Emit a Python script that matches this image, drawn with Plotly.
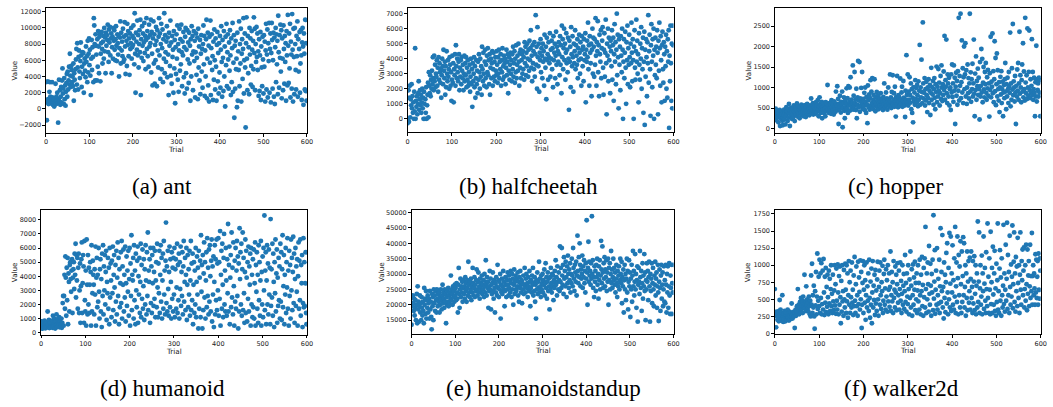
import plotly.graph_objects as go

W, H = 1053, 407

trials = list(range(600))

ant = [
3300, 800, -1400, 1000, 3400, 1200, 600, 900, 2100, 3300, 1500, 700, 1100, 800, 3300, 1400, 500, 900, 1200, 300,
1300, 800, 3100, 600, 1500, 1000, 2000, 700, -1700, 1200, 3600, 900, 2300, 500, 1500, 2700, 800, 3500, 5000, 1900,
2500, 600, 3800, 1200, 2900, 400, 2100, 3200, 4300, 1500, 4600, 2400, 3500, 5200, 3000, 6800, 4100, 2700, 5300, 4800,
3300, 4000, 2800, 5600, 1000, 4400, 3600, 2300, 4900, 6100, 7400, 3000, 8100, 5100, 2400, 6400, 7200, 4600, 3800, 5900,
8200, 6600, 2700, 5200, 7000, 4300, 6900, 2000, 5600, 6200, 4700, 3900, 7700, 5800, 6500, 3300, 8400, 4500, 6800, 8700,
5400, 7300, 4100, 1700, 6200, 8500, 4800, 7600, 6400, 3300, 11200, 10300, 8000, 3500, 9200, 7800, 6700, 3500, 8600, 5200,
9600, 7700, 4400, 8900, 9300, 3400, 6800, 8100, 9500, 7400, 5600, 8300, 9000, 6200, 10000, 7100, 8800, 4400, 9400, 7800,
9100, 8500, 10400, 7000, 5800, 9800, 8200, 10100, 6600, 8700, 9300, 4400, 7600, 8900, 6200, 10000, 8400, 9700, 7300, 6000,
8600, 10200, 7800, 5900, 9200, 8100, 6700, 9000, 4000, 7500, 8800, 10800, 5600, 9400, 7200, 8300, 6500, 9900, 5800, 8900,
6100, 10700, 7700, 4300, 9100, 8400, 5300, 10500, 7900, 9600, 6500, 8700, 4200, 9300, 7400, 8100, 10000, 6200, 7600, 9000,
7900, 10300, 8700, 5500, 11800, 6800, 2000, 9400, 8300, 7300, 10900, 6600, 9100, 5100, 8000, 9700, 7000, 11000, 1700, 8600,
6300, 10200, 7800, 9300, 5900, 8200, 10600, 6900, 9000, 4900, 8500, 11200, 7400, 9600, 6500, 8800, 5200, 10400, 7700, 9100,
8100, 11000, 4500, 9500, 6800, 2900, 8700, 10800, 5600, 9200, 3100, 7900, 6000, 10100, 8400, 2800, 9700, 7200, 5100, 8900,
11200, 6600, 9300, 3700, 8000, 10500, 4900, 7500, 9800, 3300, 8600, 6200, 11800, 4400, 9100, 7000, 5800, 8300, 10200, 3900,
8800, 6700, 1700, 9400, 7800, 5300, 10900, 4100, 8200, 3100, 9000, 6400, 7300, 2000, 9600, 5000, 8500, 700, 7600, 4300,
9200, 6200, 10300, 3600, 8000, 2100, 7200, 9900, 4700, 8600, 5500, 10400, 7000, 2800, 8300, 6600, 9500, 3900, 7600, 1900,
8900, 10000, 4400, 7300, 2500, 9700, 6100, 8200, 3200, 9400, 5600, 7800, 1000, 8600, 4000, 10200, 6700, 9000, 2300, 7100,
9600, 5900, 8400, 1400, 7000, 9300, 4200, 6300, 8800, 1200, 9900, 5100, 7700, 3500, 8500, 1800, 6800, 9100, 4600, 7400,
2600, 8000, 10300, 5500, 9000, 1600, 7200, 4000, 8600, 11000, 1300, 6200, 9400, 2900, 7800, 900, 8900, 5700, 10900, 1700,
7500, 9200, 4800, 6500, 1100, 8300, 3600, 9800, 6000, 2400, 8700, 5200, 1000, 7900, 9500, 3400, 6900, 1900, 8100, 4500,
9000, 2600, 7300, 10200, 5800, 1500, 8500, 6300, 2200, 9600, 4000, 7700, 300, 8900, 5400, 10500, 2800, 7000, 9200, 6100,
2500, 8200, 4700, 9700, 6600, 1700, 8700, 3300, 7500, 10600, 2100, 5700, 9100, -1100, 7800, 2500, 8400, 4900, 6200, 200,
9400, 1000, 7100, 4800, 10800, 2800, 8000, 5600, 9900, 900, 6800, 8600, 3700, 7400, 11200, 1900, 6000, 9300, 5100, -2300,
8100, 11300, 6200, 2300, 9000, 4400, 7600, 1800, 10000, 6700, 8700, 3000, 5300, 9600, 7300, 2700, 8400, 4900, 11300, 6900,
9900, 2300, 8000, 5800, 10100, 6400, 9300, 4800, 7100, 1600, 8600, 2200, 6600, 9500, 1100, 7700, 5100, 2800, 8900, 6100,
1900, 9100, 5200, 8300, 900, 7200, 10500, 2400, 6700, 9800, 1400, 8100, 5900, 10600, 2000, 7400, 9300, 800, 6900, 10600,
8500, 2500, 6000, 9400, 1500, 8800, 600, 7600, 10000, 3300, 9200, 5500, 8400, 1800, 11500, 7000, 2600, 9100, 6300, 10400,
4600, 9700, 1300, 8700, 6200, 2300, 10300, 7400, 3100, 9000, 5800, 8100, 1000, 9600, 6600, 2900, 11600, 7800, 3200, 9300,
5000, 10500, 1400, 8300, 6700, 2500, 11700, 7300, 900, 9900, 6400, 1800, 10000, 8000, 4800, 2400, 9000, 6500, 10800, 1500,
8600, 4600, 7400, 9500, 2000, 5600, 9700, 6600, 1100, 8200, 10000, 7700, 500, 9300, 6800, 2400, 11000, 2200, 8100, 1000,
]

halfcheetah = [
-300, 0, 1900, -200, 1400, 2200, 100, 1300, 900, 2300, 700, 1500, 400, 1100, 0, 1800, 500, 4700, 0, 1200,
800, 1500, 300, 1000, 1700, 2500, 600, 1300, 1900, 900, 1600, 400, 1100, 2000, 700, 1400, 0, 1800, 1000, 0,
1300, 400, 2100, 0, 900, 1600, 2400, 100, 3100, 2200, 1700, 2900, 1500, 2600, 2000, 3200, 2300, 4100, 2700, 1900,
4200, 2500, 3600, 2100, 3000, 2800, 3900, 2200, 3400, 1800, 4100, 2600, 3700, 3100, 2400, 3300, 1400, 2900, 4000, 3500,
2300, 4600, 3200, 2700, 3800, 1600, 3500, 2100, 4500, 3000, 2500, 3900, 2800, 3300, 2000, 4100, 3600, 2200, 3100, 1200,
2600, 4200, 2400, 3700, 1100, 3300, 2900, 4300, 2200, 4900, 3500, 2700, 4000, 3100, 2500, 3800, 4300, 1900, 3400, 2800,
3900, 2300, 4100, 3200, 2700, 3600, 1900, 3000, 4200, 2500, 3700, 2900, 4100, 2100, 3400, 2600, 3900, 2200, 3100, 2400,
3600, 1800, 2800, 4000, 2300, 3300, 800, 3700, 2500, 3000, 4100, 2100, 3500, 1400, 2700, 3900, 2300, 3200, 1700, 3800,
2600, 4300, 3100, 2000, 4000, 2800, 3500, 1600, 4800, 3300, 2500, 4400, 3000, 2200, 3800, 4600, 2700, 3600, 2100, 4200,
3100, 4700, 2900, 3900, 2300, 4300, 1600, 3400, 4000, 2700, 3700, 4500, 2200, 3300, 4400, 2800, 3800, 2500, 4100, 3200,
2900, 4500, 3600, 2400, 4100, 3000, 4600, 2700, 3800, 3300, 4300, 2200, 3900, 3100, 4700, 2600, 3500, 4200, 2800, 3700,
4000, 2300, 3400, 4600, 2900, 3800, 4300, 1700, 3200, 4100, 2600, 3600, 4400, 3000, 3900, 2500, 4300, 3300, 4800, 2800,
3700, 4500, 2400, 4000, 3100, 4900, 2700, 3600, 4200, 3200, 5000, 3800, 2200, 4400, 3400, 4600, 2700, 3900, 4300, 3000,
4500, 3300, 4100, 2600, 5100, 3700, 4800, 2900, 4400, 3500, 5000, 4000, 2800, 4600, 3200, 5200, 3900, 4700, 5900, 3400,
4200, 2500, 4900, 3700, 4500, 3300, 5100, 2800, 4300, 6900, 3600, 4800, 2000, 6100, 4100, 3500, 5000, 1800, 4400, 3900,
5300, 3100, 4700, 4200, 2700, 5000, 3800, 4500, 2200, 5600, 4000, 3400, 4800, 1300, 5400, 3900, 4300, 2600, 5100, 4100,
3700, 5700, 2800, 4600, 4000, 5200, 3300, 4700, 2100, 5500, 3900, 4400, 5000, 2700, 4200, 5800, 3600, 4800, 2300, 4500,
3800, 5100, 4300, 2900, 5500, 3600, 4900, 1700, 6200, 4100, 5300, 3300, 4700, 6000, 3900, 5000, 2600, 4400, 5700, 3700,
4600, 3100, 5400, 4000, 600, 5200, 3800, 4800, 2100, 6100, 4300, 3500, 5500, 4100, 1800, 5000, 3700, 4500, 5900, 3300,
4900, 4200, 3600, 5300, 2700, 4700, 3900, 5600, 4400, 3000, 5100, 4000, 2200, 5500, 4600, 3500, 4800, 2500, 5300, 3900,
4300, 5700, 1100, 4600, 3800, 5200, 4100, 6400, 3300, 4900, 2200, 5500, 4400, 3700, 5000, 1500, 4600, 6000, 3000, 5400,
4800, 2800, 5300, 3600, 6700, 4200, 2200, 5100, 4500, 6500, 3100, 4900, 1500, 5600, 4300, 3800, 5900, 2700, 4700, 5200,
6100, 3400, 1600, 4600, 5700, 2800, 4400, 6600, 3700, 300, 5000, 4200, 6000, 2500, 5400, 3900, 4800, 1700, 5200, 4500,
3500, 5900, 2600, 4900, 5400, 1200, 4300, 6300, 3800, 5100, 2300, 4600, 7000, 2900, 5600, 4100, 700, 5300, 3600, 4800,
1900, 5500, 4200, 3100, 6000, 4600, 0, 3800, 5300, 2700, 4400, 5800, 3400, 1000, 5100, 3900, 6200, 2300, 4700, 3600,
5600, 4100, 2100, 5000, 3700, 6400, 4400, 2500, 5300, 3900, 0, 4800, 5900, 3400, 2600, 4500, 6600, 3800, 5200, 3000,
4300, 1100, 5700, 3600, 2600, 5000, 4000, 6100, 2000, 4700, 3300, 5400, 400, 3800, 5800, -400, 4600, 2800, 5300, 4100,
1500, 5100, 3700, 6900, 2400, 4500, 5600, 3300, 200, 4900, 6300, 3800, 2100, 5300, 4200, 6000, 0, 4600, 2900, 5400,
3600, 4800, 2700, 5900, 4400, 300, 5200, 3200, 6400, 4700, 2200, 5500, 3900, 1100, 4900, 5800, 3300, 2400, 5100, 4300,
1200, 4800, 3500, 5600, 2000, 4500, 1400, 5300, 3800, 5900, -600, 4200, 2500, 6200, 3700, 1200, 5000, 700, 6200, 4900,
]

hopper = [
400, 250, 480, 300, 200, 350, 430, 280, 150, 380, 320, 450, 60, 300, 240, 420, 350, 190, 80, 270,
330, 460, 220, 380, 100, 290, 520, 340, 410, 180, 480, 260, 600, 370, 60, 440, 300, 510, 390, 230,
470, 350, 280, 560, 420, 180, 380, 500, 330, 450, 610, 290, 400, 540, 360, 470, 250, 520, 430, 380,
580, 330, 480, 410, 530, 300, 460, 390, 570, 440, 280, 510, 380, 600, 450, 350, 530, 470, 320, 560,
420, 500, 730, 380, 560, 450, 620, 340, 510, 430, 580, 480, 360, 640, 520, 400, 570, 690, 460, 300,
540, 760, 420, 600, 380, 490, 650, 250, 530, 450, 610, 380, 560, 480, 300, 640, 520, 420, 590, 1060,
470, 550, 380, 620, 500, 430, 580, 360, 690, 520, 610, 440, 570, 340, 660, 490, 530, 410, 900, 600,
550, 1030, 450, 720, 110, 600, 470, 800, 540, 390, 650, 580, 900, 30, 500, 620, 760, 430, 250, 690,
520, 600, 980, 470, 740, 380, 1030, 560, 640, 1000, 440, 1250, 580, 700, 510, 620, 1540, 460, 800, 550,
1380, 610, 700, 450, 970, 250, 580, 760, 1650, 520, 680, 1620, 410, 730, 560, 990, 640, 1380, 480, 600,
720, 550, 870, 450, 1000, 650, 380, 770, 580, 130, 1050, 690, 520, 830, 460, 740, 1180, 560, 900, 620,
1230, 480, 700, 820, 560, 1200, 650, 420, 760, 590, 890, 510, 690, 800, 470, 620, 730, 550, 660, 860,
500, 720, 580, 640, 450, 770, 590, 1100, 680, 520, 620, 880, 560, 730, 460, 650, 1000, 600, 700, 540,
1320, 640, 760, 500, 890, 620, 1300, 580, 700, 860, 530, 1020, 650, 290, 770, 590, 1280, 680, 520, 810,
640, 760, 550, 1220, 700, 600, 880, 1020, 530, 680, 1160, 750, 620, 560, 280, 920, 700, 1790, 820, 630,
1320, 560, 900, 700, 1250, 820, 630, 1100, 470, 960, 380, 750, 150, 1010, 660, 880, 580, 1180, 720, 990,
640, 1060, 810, 540, 1150, 700, 920, 2040, 580, 1000, 760, 1680, 890, 620, 2590, 1100, 730, 870, 1230, 560,
960, 680, 1140, 810, 400, 1000, 740, 1200, 620, 920, 1060, 330, 870, 1480, 700, 1010, 830, 1160, 580, 960,
1230, 750, 470, 1080, 890, 1510, 640, 1020, 780, 1450, 920, 1120, 560, 860, 1280, 720, 1540, 1000, 670, 1080,
820, 1390, 940, 2260, 700, 1180, 1020, 2170, 860, 620, 1320, 1100, 780, 1240, 560, 960, 1000, 450, 1320, 880,
1560, 770, 1100, 650, 1540, 920, 1240, 110, 1020, 1360, 800, 1160, 580, 1400, 920, 2700, 680, 1280, 1040, 2800,
740, 1130, 2150, 880, 1470, 620, 1250, 2000, 960, 1320, 2080, 780, 1420, 600, 1000, 1560, 860, 1230, 730, 1100,
2800, 900, 1370, 650, 1200, 960, 1580, 780, 1100, 2170, 850, 300, 1340, 940, 1760, 700, 1160, 1030, 1460, 820,
1240, 960, 220, 1620, 780, 1040, 1940, 880, 1700, 640, 1120, 1500, 950, 760, 1380, 1080, 1600, 870, 700, 1250,
980, 1430, 800, 1100, 290, 1350, 940, 2240, 760, 1140, 1020, 2320, 860, 1400, 640, 1200, 2130, 910, 1720, 570,
1080, 1830, 780, 1420, 960, 680, 1130, 400, 1000, 1260, 830, 1400, 620, 960, 1140, 300, 880, 1060, 740, 1200,
1600, 900, 470, 1080, 780, 1240, 960, 620, 1380, 1020, 870, 2340, 540, 1100, 700, 1470, 950, 2550, 810, 1150,
1000, 660, 1280, 880, 110, 1040, 780, 1440, 920, 1600, 700, 1100, 2360, 850, 1300, 1000, 640, 1180, 1560, 900,
2080, 760, 1390, 960, 680, 2700, 1120, 860, 1300, 720, 2440, 1000, 800, 1380, 2390, 940, 740, 1200, 880, 1040,
2180, 820, 1380, 700, 960, 1240, 870, 300, 1130, 780, 2020, 660, 1200, 940, 1100, 780, 1240, 880, 1180, 300,
]

humanoid = [
600, 350, 800, 450, 300, 700, 500, 400, 850, 550, 320, 650, 480, 750, 380, 1500, 560, 420, 900, 330,
700, 500, 380, 620, 450, 850, 350, 1200, 550, 420, 1000, 680, 300, 780, 500, 1300, 600, 400, 950, 700,
520, 1100, 380, 800, 600, 450, 1000, 350, 700, 2100, 2600, 500, 2600, 4100, 1700, 5400, 3900, 1200, 4600, 2300,
5300, 600, 4200, 3600, 1500, 4800, 5000, 3800, 2900, 4400, 5200, 1400, 3900, 4500, 5000, 3100, 5600, 4100, 6300, 2500,
5500, 3700, 5300, 1700, 4600, 5600, 1400, 3000, 4900, 700, 3300, 5200, 6400, 1400, 3500, 5500, 4700, 700, 6500, 2300,
1500, 4400, 500, 6600, 3400, 1300, 5500, 2000, 4600, 1400, 3400, 5000, 4300, 500, 6200, 1500, 2800, 5100, 4100, 3400,
1300, 4500, 2700, 6100, 500, 3900, 5300, 1800, 4100, 2200, 6000, 2900, 1000, 4500, 5200, 1500, 3800, 400, 5600, 2600,
6200, 1300, 4700, 3000, 5500, 2000, 4300, 5800, 900, 3600, 2800, 5300, 1700, 4600, 600, 6000, 2500, 4900, 3700, 1100,
5100, 2800, 6100, 1600, 4100, 5500, 3200, 800, 4800, 2200, 5800, 1300, 3900, 6400, 2600, 5300, 600, 4500, 1800, 3500,
5700, 2100, 6500, 1000, 4700, 3400, 5900, 1500, 4100, 2500, 6100, 800, 3500, 5400, 1900, 4400, 2900, 5800, 1200, 3800,
6000, 500, 4900, 2600, 6900, 1600, 4100, 3700, 5300, 1000, 6200, 2300, 4400, 600, 5600, 3000, 1800, 5100, 6100, 700,
4000, 2700, 5300, 1400, 3600, 6300, 1100, 4800, 2400, 5900, 1700, 3300, 5200, 900, 4500, 2000, 6200, 3700, 1300, 5700,
2600, 7100, 1600, 4400, 3600, 5200, 700, 6000, 2100, 4700, 1400, 5500, 3500, 6000, 1900, 4300, 2400, 5800, 1100, 3700,
5000, 1800, 6300, 3200, 1100, 4900, 2800, 5800, 1400, 4100, 6200, 2200, 5300, 1000, 3700, 5600, 1700, 6500, 2700, 4400,
1300, 5100, 7800, 2100, 4700, 1500, 5800, 3100, 1200, 4300, 6100, 1800, 5200, 3600, 1000, 5700, 2400, 4600, 1500, 5300,
2700, 6000, 1100, 4500, 5200, 1700, 3200, 6300, 1400, 4800, 2300, 5600, 1000, 5000, 3100, 6100, 1900, 4300, 2600, 5700,
1300, 4700, 6500, 2200, 3600, 5300, 1600, 4100, 6000, 900, 3400, 5500, 1800, 4500, 2700, 5800, 1200, 3700, 6500, 1600,
4900, 2300, 5600, 600, 3400, 5000, 1400, 4400, 2000, 6000, 1100, 3600, 5400, 2700, 4600, 300, 5800, 1700, 3900, 5100,
1100, 6900, 2900, 4800, 300, 5500, 1600, 4200, 6400, 2500, 5000, 1000, 3700, 5700, 1800, 6700, 2600, 4600, 1300, 5900,
2200, 6200, 4000, 1500, 5100, 6600, 800, 4700, 2700, 5400, 400, 3600, 6200, 1300, 5200, 2300, 6600, 1600, 4900, 3000,
6700, 1200, 5000, 2400, 7200, 500, 4100, 5800, 1700, 6300, 3400, 1100, 5300, 7000, 2000, 4400, 1500, 6000, 3700, 1200,
5200, 2800, 7700, 1500, 4800, 6100, 600, 3900, 5500, 1800, 7100, 2500, 4600, 1300, 6400, 3300, 500, 5100, 2200, 6000,
1700, 4400, 6500, 2600, 5400, 300, 4900, 1500, 7400, 3800, 5700, 2000, 6300, 1200, 4500, 7100, 1600, 5300, 2800, 700,
4300, 6600, 1400, 5800, 3900, 800, 5000, 2400, 6100, 1500, 4700, 3400, 5600, 500, 6000, 2000, 4100, 1100, 5200, 1800,
5900, 1000, 3500, 6400, 500, 4800, 2900, 5700, 1700, 4100, 700, 6200, 2300, 5000, 1200, 3700, 6500, 500, 4300, 2000,
5400, 1100, 6000, 3000, 8300, 1600, 4400, 5700, 600, 3700, 6200, 2000, 4900, 1300, 5900, 2700, 4600, 600, 8050, 1900,
4500, 2500, 6300, 1200, 5600, 3600, 400, 5000, 2800, 6600, 1500, 4200, 5900, 700, 3900, 1900, 5300, 2300, 4700, 1000,
6300, 2200, 5700, 900, 4500, 6900, 1800, 3300, 5500, 600, 4100, 2700, 6000, 1400, 5000, 3200, 6700, 1700, 4400, 500,
5800, 2600, 4800, 1000, 6600, 3000, 5300, 1600, 4300, 6800, 2100, 5600, 700, 3800, 6000, 1900, 4700, 2900, 5200, 500,
4000, 6400, 1700, 5100, 2300, 6600, 1200, 4800, 3500, 5500, 400, 2100, 6700, 1800, 5000, 1900, 3500, 5700, 1400, 600,
]

humanoidstandup = [
13500, 22500, 19500, 23000, 20500, 18000, 22000, 16500, 19000, 21500, 15000, 20000, 23500, 14000, 26000, 18500, 21000, 14500, 19500, 23000,
17500, 20500, 15000, 22500, 19000, 16500, 21000, 18000, 14000, 25500, 20000, 22000, 17000, 24500, 15500, 21500, 19000, 23000, 17500, 20500,
22000, 15500, 24500, 18500, 21000, 16000, 12000, 23500, 19500, 22500, 15000, 25000, 20500, 23000, 18000, 24500, 21500, 17500, 25000, 22000,
19500, 23500, 21000, 24000, 17500, 22500, 20000, 25000, 21500, 18500, 23000, 26500, 20500, 24000, 22000, 19000, 25000, 21000, 23500, 14000,
22500, 20000, 24500, 21000, 25500, 19500, 23000, 20500, 24000, 22000, 29500, 21500, 25000, 23500, 20000, 26000, 22500, 24500, 21000, 26500,
23000, 25500, 21500, 27000, 24000, 22000, 17500, 26500, 32000, 23500, 19000, 25000, 28500, 22500, 26000, 24000, 27500, 21000, 25500, 28000,
23500, 26000, 22000, 29000, 24500, 27000, 21000, 25500, 28000, 23000, 34000, 26500, 24000, 22500, 27500, 25000, 28500, 21500, 26000, 24000,
32000, 27000, 23000, 25500, 29000, 22500, 26500, 24500, 28000, 31500, 25000, 23000, 27500, 30500, 24000, 26000, 22000, 28500, 25500, 27000,
24500, 29500, 23500, 26500, 25000, 28000, 22500, 30000, 26000, 24000, 34500, 27000, 23000, 29000, 25500, 27500, 19000, 26000, 24500, 31000,
25000, 28500, 18500, 26500, 23500, 27000, 30500, 24500, 22000, 28000, 25500, 17500, 27000, 24000, 29000, 26000, 23000, 33000, 25500, 28000,
22500, 27500, 25000, 30000, 15500, 26500, 24000, 28500, 23500, 26000, 31000, 25000, 27500, 19500, 24500, 29000, 26500, 22500, 28000, 25000,
30500, 26500, 23000, 29500, 25500, 28000, 24000, 31000, 27000, 22500, 30000, 25000, 28500, 20000, 26500, 31500, 23500, 27500, 29500, 25000,
24500, 28500, 26000, 30500, 23000, 27500, 21000, 29000, 25500, 31000, 26500, 24000, 28000, 20500, 27000, 25000, 29500, 23500, 26500, 32000,
26000, 24000, 28500, 30000, 25500, 27000, 22500, 29000, 26000, 24500, 31000, 27500, 19500, 25500, 28000, 24000, 29500, 26500, 32000, 23000,
27000, 24500, 29000, 21000, 26500, 15500, 28000, 25000, 30500, 23500, 27500, 25500, 34000, 24000, 28500, 26000, 22500, 29500, 25000, 27000,
30000, 24000, 28000, 26500, 31500, 23000, 27000, 33500, 25500, 29000, 22000, 27500, 30500, 24500, 28500, 26000, 18500, 29000, 25000, 32000,
27000, 24000, 30000, 26000, 29500, 21500, 28000, 25500, 31000, 27000, 34500, 26500, 29000, 23000, 32500, 27500, 25000, 30500, 28000, 24500,
39000, 27500, 32000, 25500, 38500, 29500, 26500, 33000, 23500, 35500, 28500, 31000, 26000, 34000, 29000, 22500, 32500, 27000, 36000, 30000,
25500, 31500, 28000, 33500, 24000, 30000, 27000, 35000, 29500, 26000, 38500, 32000, 28500, 24500, 33000, 30500, 27500, 34000, 23000, 29500,
42500, 31000, 27000, 35500, 29000, 40000, 33000, 26000, 31500, 28500, 30000, 36000, 25500, 32500, 29000, 34500, 27000, 31000, 24000, 33500,
28500, 47500, 30500, 20000, 32000, 40500, 27500, 34000, 29500, 31000, 26500, 33500, 28500, 48800, 30000, 34500, 25500, 29000, 22500, 32500,
27500, 31000, 24500, 33000, 29000, 35000, 26500, 30000, 22000, 32500, 28000, 34500, 25000, 29500, 40800, 31500, 27000, 39000, 30500, 25500,
33500, 28500, 35500, 26000, 31500, 29000, 34500, 24500, 30500, 27500, 35000, 20000, 32000, 28000, 33500, 25000, 30000, 37500, 27000, 31500,
25500, 29000, 35000, 28000, 32000, 26500, 30500, 24000, 28500, 33000, 27000, 22500, 31000, 26000, 29500, 32500, 25000, 28000, 35000, 30000,
27000, 34000, 20500, 29000, 26000, 31500, 17500, 28000, 33000, 25000, 30000, 21500, 28500, 35000, 24000, 31000, 18500, 27500, 34500, 26000,
30500, 16000, 28500, 25000, 33000, 21000, 29500, 37500, 26000, 31000, 23000, 27500, 36500, 25000, 30000, 19000, 28000, 32500, 14500, 26500,
32000, 27500, 23500, 37500, 29000, 25500, 31000, 18000, 27000, 33500, 22000, 29500, 26000, 36500, 24500, 30500, 15000, 28000, 25000, 33500,
27500, 31000, 21500, 29000, 34000, 26000, 14500, 30000, 24500, 28500, 33500, 20500, 27000, 32000, 25000, 19500, 29500, 26500, 34000, 23000,
28500, 30500, 19000, 26000, 33000, 24000, 14700, 27500, 31500, 25500, 18000, 29500, 33000, 22000, 26500, 30500, 19500, 25000, 32500, 21000,
28000, 20500, 33000, 26500, 17500, 30000, 24000, 32500, 19000, 26000, 33500, 23000, 17000, 29500, 25500, 33000, 17000, 27000, 24000, 33000,
]

walker2d = [
650, 300, 260, 90, 320, 280, 200, 310, 240, 180, 330, 490, 270, 350, 190, 300, 220, 560, 260, 170,
290, 210, 330, 250, 180, 270, 310, 200, 240, 350, 230, 280, 190, 320, 260, 210, 300, 240, 440, 270,
220, 310, 280, 250, 320, 80, 290, 350, 260, 330, 400, 300, 650, 360, 420, 280, 380, 460, 330, 520,
350, 410, 480, 300, 540, 390, 440, 860, 370, 470, 330, 690, 420, 500, 360, 450, 320, 540, 400, 280,
480, 250, 850, 420, 1020, 300, 560, 380, 700, 250, 70, 620, 410, 900, 280, 540, 1170, 360, 480, 830,
400, 1080, 300, 880, 520, 1030, 280, 430, 920, 350, 1090, 600, 270, 830, 450, 960, 310, 680, 390, 860,
530, 280, 920, 440, 800, 330, 650, 1000, 400, 580, 300, 860, 470, 340, 630, 1000, 410, 720, 290, 950,
480, 350, 1010, 600, 280, 840, 420, 980, 530, 150, 770, 320, 1000, 470, 620, 260, 930, 500, 380, 1020,
640, 300, 1000, 470, 880, 230, 560, 1060, 420, 750, 300, 920, 530, 380, 1040, 450, 640, 270, 850, 400,
1120, 480, 300, 720, 980, 400, 560, 260, 1050, 430, 820, 610, 350, 1070, 500, 900, 80, 420, 740, 1060,
300, 640, 1000, 450, 780, 200, 560, 1040, 380, 690, 480, 880, 330, 1080, 520, 230, 760, 420, 950, 150,
600, 1060, 380, 700, 490, 860, 270, 930, 440, 630, 330, 790, 1050, 500, 260, 680, 920, 420, 1040, 560,
360, 750, 620, 990, 300, 480, 870, 1080, 420, 660, 350, 940, 540, 780, 320, 1000, 470, 640, 880, 390,
680, 1200, 330, 560, 900, 470, 750, 300, 1060, 520, 640, 380, 980, 600, 860, 340, 720, 1030, 450, 560,
920, 350, 650, 1040, 480, 770, 300, 580, 1000, 420, 700, 870, 360, 620, 1150, 460, 740, 320, 880, 540,
430, 1000, 650, 280, 790, 520, 1200, 380, 700, 940, 260, 560, 1010, 420, 820, 640, 1050, 340, 740, 500,
880, 300, 630, 1000, 470, 740, 350, 1080, 560, 280, 860, 620, 1120, 400, 710, 260, 960, 530, 1100, 380,
1560, 650, 300, 880, 500, 1040, 720, 320, 1280, 580, 420, 1020, 700, 260, 870, 600, 1080, 340, 1730, 510,
760, 1220, 290, 640, 920, 420, 1250, 350, 560, 800, 440, 1080, 300, 690, 1540, 460, 900, 620, 1440, 380,
680, 220, 1040, 520, 860, 310, 750, 1180, 440, 1320, 600, 280, 960, 500, 1470, 380, 730, 1420, 330, 880,
600, 1290, 420, 780, 350, 1100, 540, 1560, 300, 690, 1040, 460, 1420, 810, 280, 1150, 560, 980, 380, 1350,
720, 300, 1200, 460, 840, 1410, 560, 1320, 380, 680, 1000, 260, 880, 520, 1200, 340, 760, 1060, 450, 620,
1110, 350, 800, 1200, 520, 680, 300, 1060, 440, 760, 1130, 340, 580, 1000, 280, 700, 880, 380, 1640, 460,
760, 1480, 300, 660, 1000, 420, 540, 1140, 280, 880, 620, 1420, 360, 730, 960, 480, 300, 1190, 650, 400,
1610, 520, 830, 300, 1100, 640, 280, 1490, 430, 750, 960, 300, 1270, 570, 420, 880, 1210, 330, 660, 260,
1020, 460, 780, 1610, 350, 620, 300, 950, 1220, 480, 820, 260, 1100, 560, 380, 700, 1590, 430, 880, 320,
640, 1300, 480, 800, 1620, 360, 1150, 560, 900, 300, 1430, 680, 420, 1010, 540, 830, 1580, 370, 720, 1050,
1480, 460, 880, 320, 1120, 620, 980, 400, 1400, 740, 520, 1000, 300, 860, 1480, 640, 420, 1060, 780, 1230,
560, 920, 1260, 380, 650, 1000, 480, 1300, 720, 340, 1230, 580, 850, 1060, 400, 690, 1300, 520, 840, 620,
1470, 420, 840, 1000, 560, 880, 660, 420, 1160, 600, 1080, 520, 830, 1060, 420, 1170, 640, 510, 1100, 920,
]

captions = ["(a) ant", "(b) halfcheetah", "(c) hopper",
            "(d) humanoid", "(e) humanoidstandup", "(f) walker2d"]
series = [ant, halfcheetah, hopper, humanoid, humanoidstandup, walker2d]

# layout (pixel boxes: left, right, top, bottom)
boxes = [
    (44.3, 307.3, 6.7, 133.5),
    (408.7, 676.7, 6.7, 132.7),
    (778.7, 1046.7, 6.7, 133.3),
    (39.3, 307.3, 210.7, 337.3),
    (412.7, 676.7, 210.7, 336.7),
    (778.7, 1046.7, 210.7, 336.7),
]
yranges = [(-3000, 12500), (-900, 7400), (-110, 2950),
           (-160, 8720), (10360, 50970), (-13, 1813)]
yticks = [(-2000, 2000), (0, 1000), (0, 500), (0, 1000), (15000, 5000), (0, 250)]
ylabel_x = [12.3, 382, 752, 12, 382, 751]
caption_x = [161.5, 531, 900.3, 161.3, 546, 906]
caption_y = [187.3, 187.3, 187.3, 391.7, 391.7, 391.7]

TICK_FONT = dict(family="DejaVu Sans", size=6.5, color="#222222")
LABEL_FONT = dict(family="DejaVu Sans", size=7.2, color="#222222")
COLOR = "#1f77b4"

fig = go.Figure()
annotations = []
for i, (vals, box) in enumerate(zip(series, boxes)):
    n = i + 1
    xa = "x" if n == 1 else f"x{n}"
    ya = "y" if n == 1 else f"y{n}"
    fig.add_trace(go.Scatter(
        x=trials, y=vals, mode="markers", xaxis=xa, yaxis=ya,
        marker=dict(color=COLOR, size=4.9, line=dict(width=0)),
        showlegend=False, hoverinfo="skip"))
    l, r, t, b = box
    common = dict(showline=True, mirror=True, linecolor="black", linewidth=1,
                  ticks="outside", ticklen=2.5, tickwidth=0.8, tickcolor="black",
                  showgrid=False, zeroline=False, tickfont=TICK_FONT)
    fig.layout[f"xaxis{'' if n == 1 else n}"] = dict(
        domain=[l / W, r / W], anchor=ya, range=[0, 600], tick0=0, dtick=100,
        tickformat="d", **common)
    t0, dt = yticks[i]
    fig.layout[f"yaxis{'' if n == 1 else n}"] = dict(
        domain=[1 - b / H, 1 - t / H], anchor=xa, range=list(yranges[i]),
        tick0=t0, dtick=dt, tickformat="d", **common)
    annotations.append(dict(
        text="Trial", xref="paper", yref="paper",
        x=((l + r) / 2) / W, y=1 - (b + 16.5) / H, showarrow=False,
        font=LABEL_FONT, xanchor="center", yanchor="middle"))
    annotations.append(dict(
        text="Value", xref="paper", yref="paper", textangle=-90,
        x=ylabel_x[i] / W, y=1 - ((t + b) / 2) / H, showarrow=False,
        font=LABEL_FONT, xanchor="center", yanchor="middle"))
    annotations.append(dict(
        text=captions[i], xref="paper", yref="paper",
        x=caption_x[i] / W, y=1 - caption_y[i] / H, showarrow=False,
        font=dict(family="Liberation Serif", size=23, color="black"),
        xanchor="center", yanchor="middle"))

fig.update_layout(
    width=W, height=H, margin=dict(l=0, r=0, t=0, b=0),
    paper_bgcolor="white", plot_bgcolor="white",
    annotations=annotations)

fig.write_html("out.html")
